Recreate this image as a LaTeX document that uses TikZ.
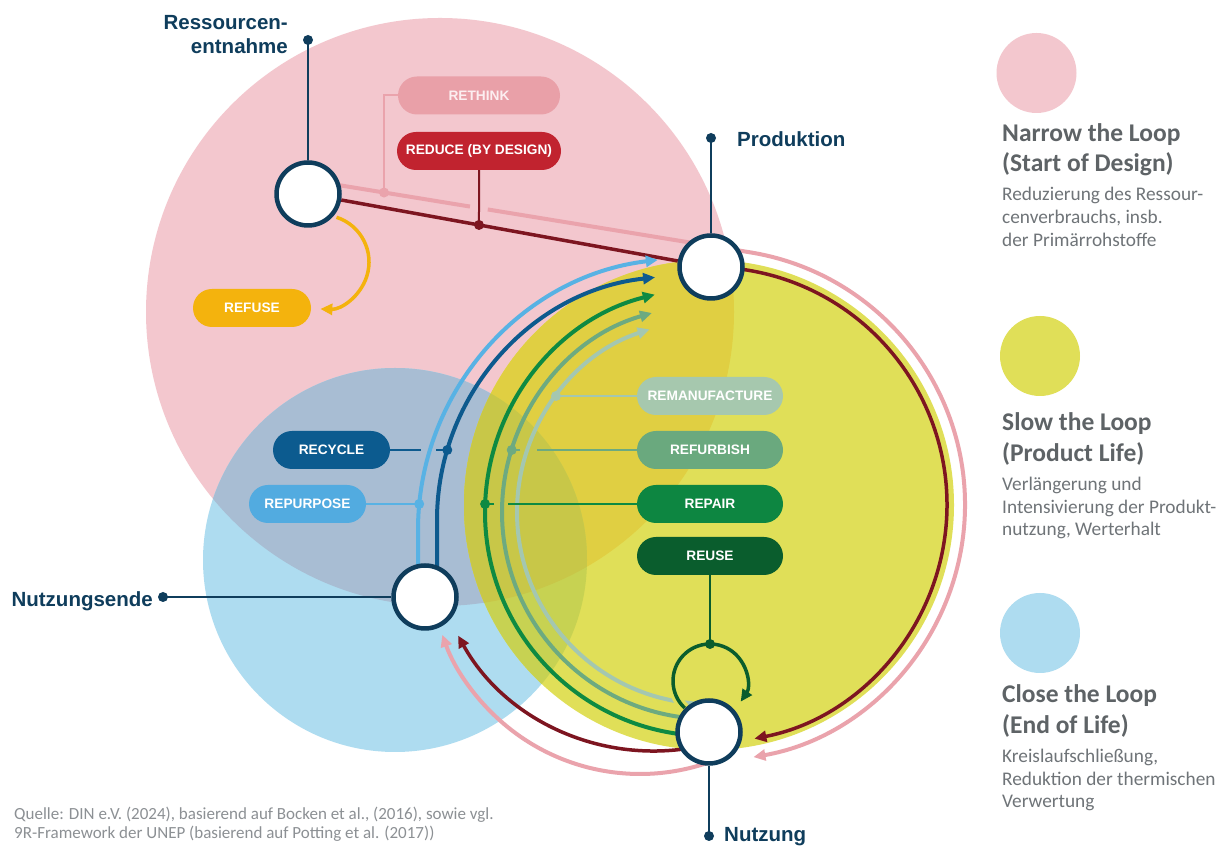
\documentclass[tikz,border=0pt]{standalone}
\usepackage{fontspec}
\usetikzlibrary{arrows.meta,calc}
\newfontfamily\lsans{Liberation Sans}
\newfontfamily\carl{Carlito}
\pgfdeclarelayer{bg}
\pgfdeclarelayer{lines}
\pgfsetlayers{bg,lines,main}
\definecolor{navy}{RGB}{15,61,92}
\definecolor{pinkC}{RGB}{243,199,206}
\definecolor{blueC}{RGB}{174,220,240}
\definecolor{pinkblue}{RGB}{168,189,211}
\definecolor{yellowC}{RGB}{224,223,88}
\definecolor{yellowpink}{RGB}{224,207,66}
\definecolor{yellowblue}{RGB}{199,210,82}
\definecolor{yellowpb}{RGB}{200,199,72}
\definecolor{pinkline}{RGB}{234,163,172}
\definecolor{darkred}{RGB}{125,21,32}
\definecolor{lightblue}{RGB}{88,178,228}
\definecolor{darkblue}{RGB}{13,90,142}
\definecolor{cRethink}{RGB}{233,160,168}
\definecolor{cReduce}{RGB}{193,35,47}
\definecolor{cRefuse}{RGB}{244,179,13}
\definecolor{cRecycle}{RGB}{12,91,143}
\definecolor{cRepurpose}{RGB}{82,171,224}
\definecolor{cReman}{RGB}{166,200,174}
\definecolor{cRefurb}{RGB}{106,169,126}
\definecolor{cRepair}{RGB}{13,134,65}
\definecolor{cReuse}{RGB}{10,93,45}
\definecolor{lReman}{RGB}{164,199,176}
\definecolor{lRefurb}{RGB}{109,170,128}
\definecolor{lRepair}{RGB}{14,138,66}
\definecolor{titlegray}{RGB}{94,99,102}
\definecolor{descgray}{RGB}{111,116,120}
\definecolor{srcgray}{RGB}{140,144,148}
\begin{document}
\begin{tikzpicture}[x=1pt,y=1pt,
  pill/.style={rectangle, rounded corners=19pt, minimum height=38pt, inner sep=0pt,
    text=white, font=\lsans\bfseries\fontsize{13.7}{16}\selectfont},
  ring/.style={circle, draw=navy, line width=4.5pt, fill=white, minimum size=63pt, inner sep=0pt},
  lbl/.style={inner sep=0pt, text=navy, font=\lsans\bfseries\fontsize{20.5}{24}\selectfont},
  ttl/.style={anchor=base west, inner sep=0pt, text=titlegray, font=\carl\bfseries\fontsize{25.5}{30}\selectfont},
  dsc/.style={anchor=base west, inner sep=0pt, text=descgray, font=\carl\fontsize{19.3}{23}\selectfont},
  src/.style={anchor=base west, inner sep=0pt, text=srcgray, font=\carl\fontsize{17}{20}\selectfont},
  tri/.style={-{Triangle[length=12pt,width=11pt]}},
  arcline/.style={line width=4pt},
  conn/.style={line width=2pt},
  navyline/.style={draw=navy, line width=2pt}
]
\useasboundingbox (0,0) rectangle (1224,848);

% ---------- background circles ----------
\begin{pgfonlayer}{bg}
\fill[white] (0,0) rectangle (1224,848);
\fill[pinkC] (440,536) circle[radius=294];
\fill[blueC] (395,288) circle[radius=192];
\begin{scope}
  \clip (440,536) circle[radius=294];
  \fill[pinkblue] (395,288) circle[radius=192];
\end{scope}
\fill[yellowC] (709,343) circle[radius=245];
\begin{scope}
  \clip (709,343) circle[radius=245];
  \fill[yellowpink] (440,536) circle[radius=294];
  \fill[yellowblue] (395,288) circle[radius=192];
  \clip (440,536) circle[radius=294];
  \fill[yellowpb] (395,288) circle[radius=192];
\end{scope}
% legend circles
\fill[pinkC] (1036.5,775) circle[radius=40];
\fill[yellowC] (1040,492) circle[radius=40];
\fill[blueC] (1040,215) circle[radius=40];
\end{pgfonlayer}

% ---------- nodes ----------
\node[ring] (n1) at (308,654) {};
\node[ring] (n2) at (711,581) {};
\node[ring] (n3) at (425,251) {};
\node[ring] (n4) at (709,116) {};

\node[pill, fill=cRethink, text={rgb,255:red,252;green,238;blue,240}, minimum width=162pt] (rethink) at (479,752.5) {RETHINK};
\node[pill, fill=cReduce, minimum width=164pt] (reduce) at (479,697) {REDUCE (BY DESIGN)};
\node[pill, fill=cRefuse, minimum width=118pt] (refuse) at (252,540) {REFUSE};
\node[pill, fill=cRecycle, minimum width=117pt] (recycle) at (331.5,398) {RECYCLE};
\node[pill, fill=cRepurpose, minimum width=117pt] (repurpose) at (307.5,344) {REPURPOSE};
\node[pill, fill=cReman, minimum width=146pt] (reman) at (710,452) {REMANUFACTURE};
\node[pill, fill=cRefurb, minimum width=146pt] (refurb) at (710,398) {REFURBISH};
\node[pill, fill=cRepair, minimum width=146pt] (repair) at (710,344) {REPAIR};
\node[pill, fill=cReuse, minimum width=146pt] (reuse) at (710,292) {REUSE};

% labels
\coordinate (d1) at (308,808);
\coordinate (d2) at (711,710);
\coordinate (d3) at (163,251);
\coordinate (d4) at (709,12);
\node[lbl, anchor=base east] (lab1a) at (288,818) {Ressourcen-};
\node[lbl, anchor=base east] (lab1b) at (288,794) {entnahme};
\node[lbl, anchor=base west] (lab2) at (737,701.5) {Produktion};
\node[lbl, anchor=base east] (lab3) at (153,241) {Nutzungsende};
\node[lbl, anchor=base west] (lab4) at (724,6) {Nutzung};

% legend
\node[ttl] (nl1) at (1002,706) {Narrow the Loop};
\node[ttl] (nl2) at (1002,676) {(Start of Design)};
\node[dsc] (nd1) at (1002,647) {Reduzierung des Ressour-};
\node[dsc] (nd2) at (1002,624) {cenverbrauchs, insb.};
\node[dsc] (nd3) at (1002,601) {der Primärrohstoffe};
\node[ttl] (sl1) at (1002,417) {Slow the Loop};
\node[ttl] (sl2) at (1002,386) {(Product Life)};
\node[dsc] (sd1) at (1002,357) {Verlängerung und};
\node[dsc] (sd2) at (1002,334) {Intensivierung der Produkt-};
\node[dsc] (sd3) at (1002,312) {nutzung, Werterhalt};
\node[ttl] (cl1) at (1002,145) {Close the Loop};
\node[ttl] (cl2) at (1002,114) {(End of Life)};
\node[dsc] (cd1) at (1002,85) {Kreislaufschließung,};
\node[dsc] (cd2) at (1002,62) {Reduktion der thermischen};
\node[dsc] (cd3) at (1002,40) {Verwertung};

\node[src] (q1) at (14,28) {Quelle: DIN e.V. (2024), basierend auf Bocken et al., (2016), sowie vgl.};
\node[src] (q2) at (14,9) {9R-Framework der UNEP (basierend auf Potting et al. (2017))};

% ---------- connectors ----------
\begin{pgfonlayer}{lines}
\coordinate (ycen) at (709,343);
\coordinate (gcen) at (709,336);
\coordinate (rcen) at (654,321);
\coordinate (pcen) at (640,284);
\coordinate (fcen) at (322,586);
\coordinate (lcen) at (710,167);
\coordinate (pkA) at (338,663);
\coordinate (pkT) at ($(ycen)+(80.4:256)$);

% label lines
\draw[navyline] (d1) -- (n1);
\draw[navyline] (d2) -- (n2);
\draw[navyline] (d3) -- (n3);
\draw[navyline] (d4) -- (n4);
\fill[navy] (d1) circle[radius=5];
\fill[navy] (d2) circle[radius=5];
\fill[navy] (d3) circle[radius=5];
\fill[navy] (d4) circle[radius=5];

% pink (rethink) path
\draw[pinkline, arcline] (pkA) -- ($(pkA)!0.319!(pkT)$);
\draw[pinkline, arcline, tri] ($(pkA)!0.362!(pkT)$) -- (pkT) arc[start angle=80.4, end angle=-80, radius=256];
\draw[pinkline, arcline, tri] ($(pcen)+(-70:210)$) arc[start angle=-70, end angle=-160.3, radius=210];
\coordinate (thdot) at ($(pkA)!0.1112!(pkT)$);
\draw[pinkline, conn] (rethink.west) -| (thdot);
\fill[pinkline] (thdot) circle[radius=5];

% dark red (reduce) path
\draw[darkred, line width=3.5pt] (n1) -- (n2);
\draw[darkred, line width=3.5pt, tri] ($(ycen)+(81.7:238)$) arc[start angle=81.7, end angle=-79, radius=238];
\draw[darkred, line width=3.5pt, tri] ($(rcen)+(-80:224)$) arc[start angle=-80, end angle=-151, radius=224];
\coordinate (rddot) at ($(n1)!0.4243!(n2)$);
\draw[darkred, conn] (reduce.south) -- (rddot);
\fill[darkred] (rddot) circle[radius=5];

% refuse
\draw[cRefuse, line width=3.5pt, tri] ($(fcen)+(72:47)$) arc[start angle=72, end angle=-92, radius=47];

% blue arcs
\draw[lightblue, arcline, tri] (418,262) -- (418,318) arc[start angle=180, end angle=96.8, radius=272];
\draw[darkblue, arcline, tri] (437,262) -- (437,328) arc[start angle=180, end angle=96.1, radius=244];

% green arcs
\draw[lRepair, arcline, tri] ($(gcen)+(268:224)$) arc[start angle=268, end angle=104, radius=224];
\draw[lRefurb, arcline, tri] ($(gcen)+(268:207)$) arc[start angle=268, end angle=106, radius=207];
\draw[lReman, arcline, tri] ($(gcen)+(268:192)$) arc[start angle=268, end angle=108, radius=192];

% connectors to pills
\coordinate (rcdot) at (447.3,398);
\draw[darkblue, conn] (recycle.east) -- (421,398);
\draw[darkblue, conn] (436,398) -- (rcdot);
\fill[darkblue] (rcdot) circle[radius=5];
\coordinate (rudot) at (419.2,344);
\draw[lightblue, conn] (repurpose.east) -- (rudot);
\fill[lightblue] (rudot) circle[radius=5];
\coordinate (rmdot) at (556,452);
\draw[lReman, conn] (reman.west) -- (rmdot);
\fill[lReman] (rmdot) circle[radius=5];
\coordinate (rfdot) at (511.7,398);
\draw[lRefurb, conn] (refurb.west) -- (537,398);
\draw[lRefurb, conn] (520,398) -- (rfdot);
\fill[lRefurb] (rfdot) circle[radius=5];
\coordinate (rpdot) at (485.1,344);
\draw[lRepair, conn] (repair.west) -- (508,344);
\draw[lRepair, conn] (494,344) -- (rpdot);
\fill[lRepair] (rpdot) circle[radius=5];

% reuse loop
\draw[yellowC, line width=10pt] ($(lcen)+(227:37)$) arc[start angle=227, end angle=150, radius=37];
\draw[cReuse, line width=3.5pt, tri] ($(lcen)+(227:37)$) arc[start angle=227, end angle=-34, radius=37];
\coordinate (ldot) at ($(lcen)+(90:37)$);
\draw[cReuse, conn] (reuse.south) -- (ldot);
\fill[cReuse] (ldot) circle[radius=5];
\end{pgfonlayer}
\end{tikzpicture}
\end{document}
